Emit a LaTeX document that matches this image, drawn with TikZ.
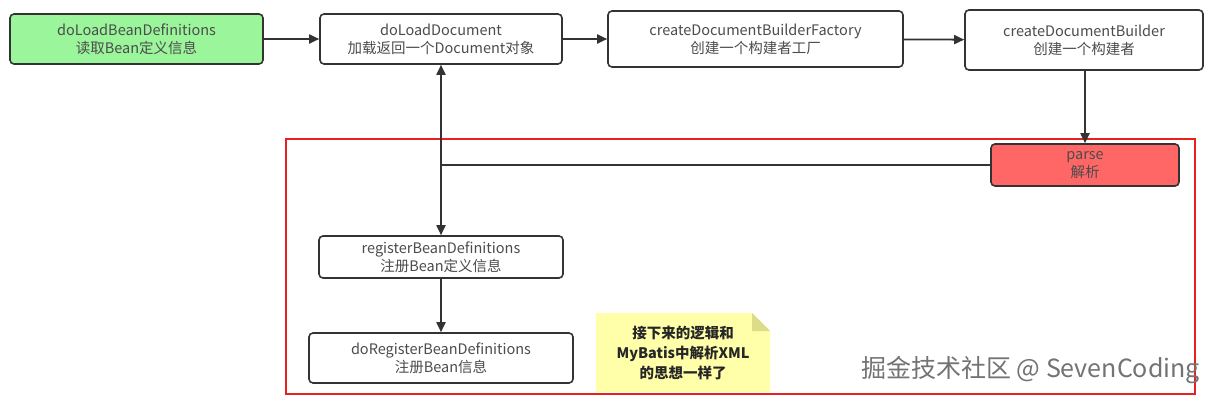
\documentclass[tikz,border=0pt]{standalone}
\usepackage{fontspec}
\setmainfont{Noto Sans CJK SC}
\usetikzlibrary{arrows.meta}
\definecolor{boxgreen}{HTML}{9BF59B}
\definecolor{boxred}{HTML}{FF6666}
\definecolor{notey}{HTML}{FFFFAA}
\definecolor{notefold}{HTML}{DDDD88}
\definecolor{frame}{HTML}{E8201F}
\definecolor{ln}{HTML}{333333}
\begin{document}
\begin{tikzpicture}[x=1pt,y=-1pt,
  box/.style={draw=ln, line width=1.6pt, rounded corners=4pt, fill=white, align=center,
    font=\fontsize{14.5}{18}\selectfont, text=black!70, inner sep=0pt},
  conn/.style={draw=ln, line width=1.8pt, -{Triangle[length=10pt,width=9pt]}},
  plain/.style={draw=ln, line width=1.8pt}]
\useasboundingbox (0,0) rectangle (1213,399);
\fill[white] (0,0) rectangle (1213,399);
% red frame
\draw[frame, line width=2pt] (286,139) rectangle (1195,394);
% top row
\node[box, fill=boxgreen, minimum width=253pt, minimum height=50pt] (dlbd) at (136.5,39) {doLoadBeanDefinitions\\读取Bean定义信息};
\node[box, minimum width=242pt, minimum height=50pt] (dld) at (441,39) {doLoadDocument\\加载返回一个Document对象};
\node[box, minimum width=295pt, minimum height=56pt] (cdbf) at (755.5,39) {createDocumentBuilderFactory\\创建一个构建者工厂};
\node[box, minimum width=238pt, minimum height=60pt] (cdb) at (1084,40) {createDocumentBuilder\\创建一个构建者};
% parse
\node[box, fill=boxred, minimum width=188pt, minimum height=42pt] (parse) at (1085,165) {parse\\解析};
% lower boxes
\node[box, minimum width=244pt, minimum height=42pt] (reg) at (441,257) {registerBeanDefinitions\\注册Bean定义信息};
\node[box, minimum width=264pt, minimum height=50pt] (doreg) at (441,358) {doRegisterBeanDefinitions\\注册Bean信息};
% connectors
\draw[conn] (dlbd) -- (dld);
\draw[conn] (dld) -- (cdbf);
\draw[conn] (cdbf) -- (cdb);
\draw[conn] (cdb.south -| parse.north) -- (parse.north);
\coordinate (j) at (dld.south |- parse.west);
\draw[plain] (parse.west) -- (j);
\draw[draw=ln, line width=1.8pt, {Triangle[length=10pt,width=9pt]}-{Triangle[length=10pt,width=9pt]}] (dld.south) -- (reg.north);
\draw[conn] (reg) -- (doreg);
% note
\fill[notey] (596,313) -- (752,313) -- (770,331) -- (770,392) -- (596,392) -- cycle;
\fill[notefold] (752,313) -- (770,331) -- (752,331) -- cycle;
\node[font=\fontsize{14.5}{20}\selectfont\bfseries, text=black!85, align=center] (note) at (683,353) {接下来的逻辑和\\MyBatis中解析XML\\的思想一样了};
% watermark
\node[font=\fontsize{25}{28}\selectfont, text=black!55, anchor=east, inner sep=0pt] (wm) at (1200,370) {掘金技术社区 @ SevenCoding};
\end{tikzpicture}
\end{document}
